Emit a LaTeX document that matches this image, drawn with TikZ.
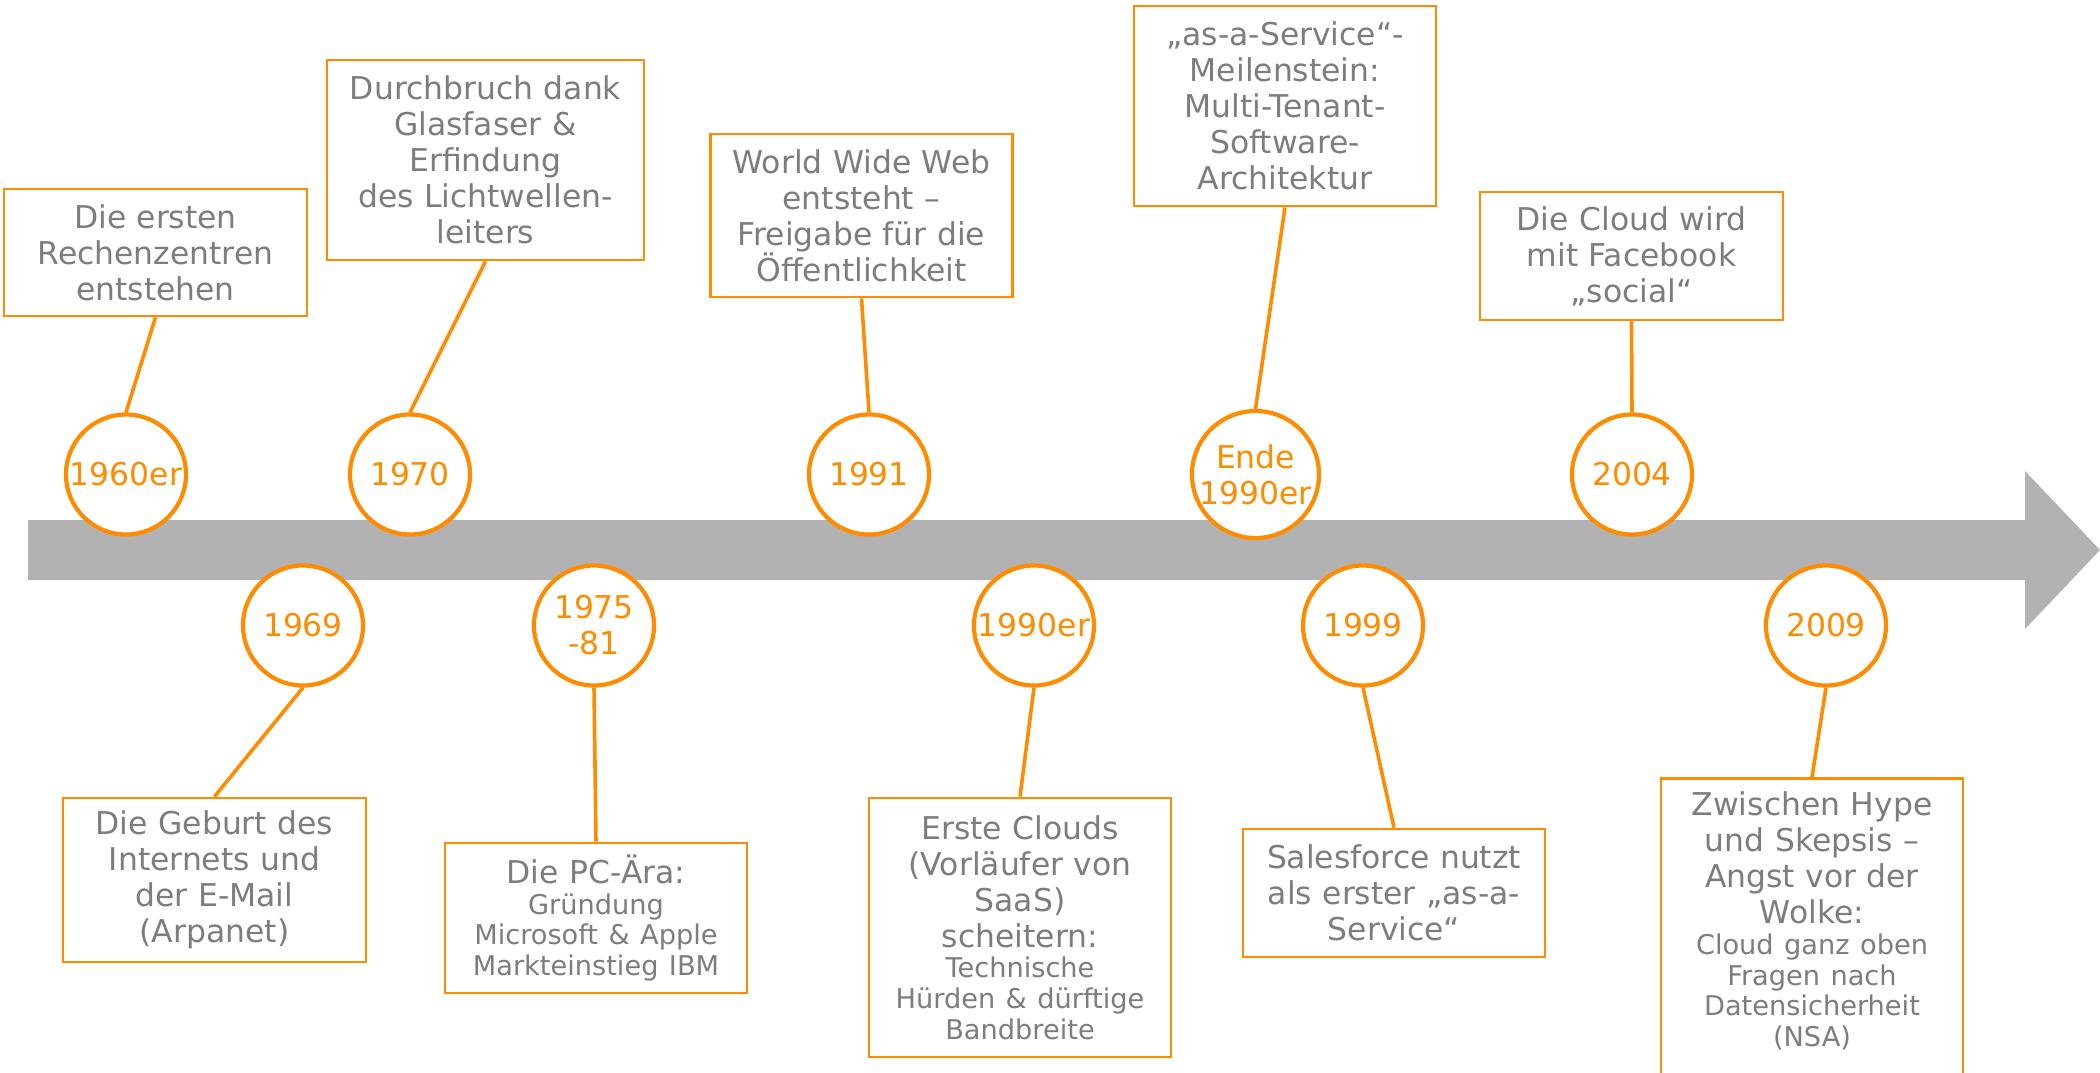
\documentclass[tikz,border=0pt]{standalone}
\usepackage{fontspec}
\setmainfont{DejaVu Sans}
\definecolor{tlorange}{RGB}{255,140,0}
\definecolor{tlbar}{RGB}{178,178,178}
\definecolor{tltext}{RGB}{125,125,125}
\newcommand\evmainfs{\fontsize{15.7}{18}\selectfont}
\newcommand\evsmallfs{\fontsize{13.6}{15.3}\selectfont}
\newcommand\evyearfs{\fontsize{15.7}{18}\selectfont}
\tikzset{
  evbox/.style={draw=tlorange, line width=1.4pt, fill=white, text=tltext,
    align=center, inner sep=0pt, font=\evmainfs},
  evyear/.style={circle, draw=tlorange, line width=2.1pt, fill=white,
    text=tlorange, minimum size=60pt, inner sep=0pt, align=center,
    font=\evyearfs},
  evlink/.style={draw=tlorange, line width=1.8pt}
}
\begin{document}
\begin{tikzpicture}[x=0.5pt,y=-0.5pt]
% canvas
\fill[white] (0,0) rectangle (2100,1072);
\useasboundingbox (0,0) rectangle (2100,1072);

% time axis with arrow head
\fill[tlbar] (28,520) -- (2025,520) -- (2025,471) -- (2100,550)
  -- (2025,629) -- (2025,580) -- (28,580) -- cycle;

% years above the axis
\node[evyear] (y1960) at (126,474.5) {1960er};
\node[evyear] (y1970) at (410,474.5) {1970};
\node[evyear] (y1991) at (869,474.5) {1991};
\node[evyear] (yende) at (1255.5,474.5) {Ende\\1990er};
\node[evyear] (y2004) at (1632,474.5) {2004};

% years below the axis
\node[evyear] (y1969) at (303,625.5) {1969};
\node[evyear] (y1975) at (594,625.5) {1975\\-81};
\node[evyear] (y1990) at (1034,625.5) {1990er};
\node[evyear] (y1999) at (1363,625.5) {1999};
\node[evyear] (y2009) at (1826,625.5) {2009};

% events above the axis
\node[evbox, text width=151.5pt, minimum height=63.5pt] (b1960) at (155.5,252.5)
  {Die ersten\\Rechenzentren\\entstehen};
\node[evbox, text width=158.5pt, minimum height=100pt] (b1970) at (485.5,160)
  {Durchbruch dank\\Glasfaser \&\\Erfindung\\des Lichtwellen-\\leiters};
\node[evbox, text width=151pt, minimum height=81.5pt] (b1991) at (861.5,215.5)
  {World Wide Web\\entsteht –\\Freigabe für die\\Öffentlichkeit};
\node[evbox, text width=151pt, minimum height=100pt] (bende) at (1285,106)
  {„as-a-Service“-\\Meilenstein:\\Multi-Tenant-\\Software-\\Architektur};
\node[evbox, text width=151.5pt, minimum height=64pt] (b2004) at (1631.5,256)
  {Die Cloud wird\\mit Facebook\\„social“};

% events below the axis
\node[evbox, text width=151.5pt, minimum height=82pt] (b1969) at (214.5,880)
  {Die Geburt des\\Internets und\\der E-Mail\\(Arpanet)};
\node[evbox, text width=151pt, minimum height=75pt] (b1975) at (596,918)
  {Die PC-Ära:\par\evsmallfs Gründung\\Microsoft \& Apple\\Markteinstieg IBM\par};
\node[evbox, text width=151pt, minimum height=129.5pt] (b1990) at (1020,927.5)
  {Erste Clouds\\(Vorläufer von\\SaaS)\\scheitern:\par\evsmallfs Technische\\Hürden \& dürftige\\Bandbreite\par};
\node[evbox, text width=151pt, minimum height=64pt] (b1999) at (1394,893)
  {Salesforce nutzt\\als erster „as-a-\\Service“};
% this box runs on past the lower edge of the page
\node[evbox, text width=151pt, anchor=north, inner ysep=6.8pt, text depth=132pt]
  (b2009) at (1812,777)
  {Zwischen Hype\\und Skepsis –\\Angst vor der\\Wolke:\par\evsmallfs Cloud ganz oben\\Fragen nach\\Datensicherheit\\(NSA)\par};

% connectors
\draw[evlink] (b1960.south) -- (y1960.north);
\draw[evlink] (b1970.south) -- (y1970.north);
\draw[evlink] (b1991.south) -- (y1991.north);
\draw[evlink] (bende.south) -- (yende.north);
\draw[evlink] (b2004.south) -- (y2004.north);
\draw[evlink] (y1969.south) -- (b1969.north);
\draw[evlink] (y1975.south) -- (b1975.north);
\draw[evlink] (y1990.south) -- (b1990.north);
\draw[evlink] (y1999.south) -- (b1999.north);
\draw[evlink] (y2009.south) -- (b2009.north);
\end{tikzpicture}
\end{document}
